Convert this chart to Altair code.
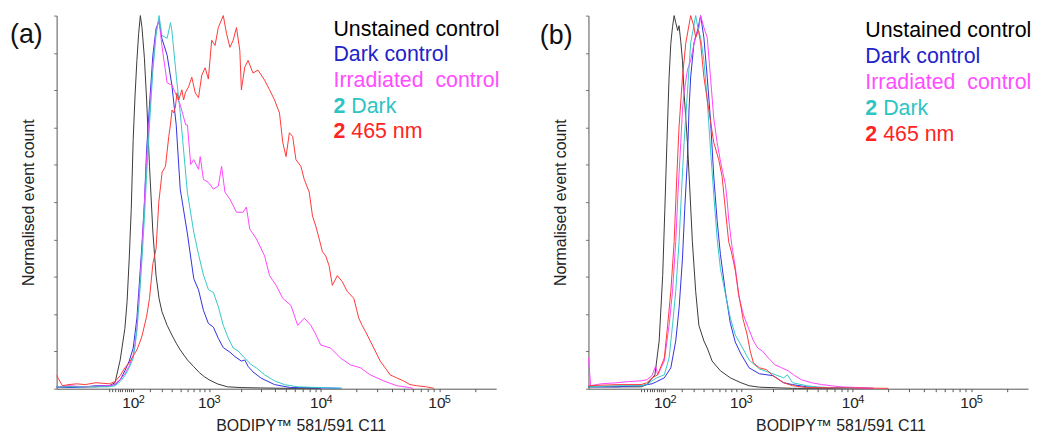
import altair as alt
import pandas as pd

SERIES = ["Unstained control", "Dark control", "Irradiated control", "2 Dark", "2 465 nm"]
LINE_COLORS = ["#3a3a3a", "#3030e0", "#ff45ff", "#36c8c8", "#ff3838"]
TEXT_COLORS = ["#000000", "#2222c8", "#ff4dff", "#2ec4c4", "#ff2424"]

MAJOR_TICKS = [100, 1000, 10000, 100000]
MAJOR_BASE = ["10", "10", "10", "10"]
MAJOR_EXP = ["2", "3", "4", "5"]
MINOR_TICKS = [0, 10, 20, 30, 40, 50, 60, 70, 80, 90,
               200, 300, 400, 500, 600, 700, 800, 900,
               2000, 3000, 4000, 5000, 6000, 7000, 8000, 9000,
               20000, 30000, 40000, 50000, 60000, 70000, 80000, 90000, 200000]
Y_TICKS = [0, 10, 20, 30, 40, 50, 60, 70, 80, 90, 100]

# ---------------- panel (a) ----------------
A_UNSTAINED_X = [-300, -200, -100, -50, 0, 20, 40, 60, 70, 80, 90, 100, 110, 120, 130, 140, 150, 165, 180, 200,
                 225, 250, 275, 300, 350, 400, 450, 500, 600, 700, 800, 900, 1000, 1200, 1500, 2000, 3000, 5000, 10000]
A_UNSTAINED_Y = [0.5, 0.5, 0.5, 0.5, 0.8, 1.6, 7.7, 16.2, 23.4, 34.8, 48.1, 66.8, 78.7, 88.0, 95.2, 100, 96.8, 88.8, 77.4, 59.6,
                 42.0, 30.3, 24.2, 20.7, 17.0, 14.4, 12.2, 10.4, 7.7, 5.9, 4.3, 3.2, 2.4, 1.3, 0.5, 0.3, 0.2, 0.1, 0.1]

A_DARK_X = [-300, -200, -100, -50, 0, 20, 40, 60, 80, 100, 110, 120, 130, 140, 150, 165, 180, 200, 225, 250,
            275, 300, 350, 400, 450, 500, 600, 700, 784, 879, 984, 1101, 1228, 1369, 1580, 1757, 2014, 2162, 2314, 2563,
            3036, 3973, 5491, 7000, 15000]
A_DARK_Y = [0.5, 0.3, 0.5, 0.8, 0.8, 1.1, 2.4, 4.8, 7.4, 10.9, 14.9, 18.9, 25.5, 32.2, 38.8, 49.5, 64.1, 76.1, 89.4, 96.5,
            98.7, 93.9, 89.4, 81.4, 70.7, 53.5, 41.5, 29.5, 26.5, 21.0, 17.5, 16.5, 13.5, 11.0, 9.8, 8.6, 7.4, 7.7, 6.0, 4.5,
            2.8, 1.1, 0.3, 0.3, 0.1]

A_IRR_X = [-300, -200, -100, 0, 20, 40, 60, 80, 100, 110, 120, 130, 140, 150, 165, 180, 200, 225, 250, 275,
           300, 350, 400, 450, 500, 575, 600, 650, 700, 784, 815, 879, 984, 1101, 1228, 1320, 1420, 1580, 1816, 2088,
           2235, 2397, 2742, 3250, 3594, 4102, 4689, 5523, 6304, 7189, 8180, 8747, 9960, 12079, 14670, 17800, 21600, 26180,
           33900, 43790, 56300, 60000]
A_IRR_Y = [0.5, 0.8, 0.5, 0.8, 1.3, 2.4, 4.0, 6.1, 9.0, 12.2, 16.2, 22.9, 29.5, 37.5, 49.5, 61.4, 73.4, 86.7, 96.0, 98.7,
           92.0, 82.0, 81.4, 78.7, 76.1, 70.7, 70.7, 60.1, 61.4, 58.8, 62.2, 56.1, 55.3, 53.5, 54.3, 59.6, 52.7, 50.8, 47.3, 47.3,
           48.7, 42.8, 40.2, 35.6, 30.3, 27.7, 24.2, 22.3, 17.0, 18.9, 17.0, 15.4, 11.7, 10.9, 8.2, 6.4, 5.6, 3.7,
           2.1, 0.8, 0.3, 0.1]

A_2DARK_X = [-300, -100, 0, 20, 40, 60, 80, 100, 110, 120, 130, 140, 150, 165, 180, 200, 225, 250, 275, 300,
             350, 385, 400, 450, 500, 600, 700, 784, 879, 984, 1101, 1228, 1369, 1523, 1693, 1880, 2162, 2477, 2742, 3250,
             3973, 4845, 6304, 10000, 15000]
A_2DARK_Y = [0.5, 0.5, 0.5, 0.8, 1.9, 3.5, 5.6, 8.2, 11.4, 15.7, 21.5, 28.2, 34.8, 45.5, 57.4, 70.7, 85.4, 94.7, 100, 94.7,
             93.9, 98.1, 96.0, 84.0, 74.0, 52.5, 42.0, 36.0, 30.5, 26.6, 25.8, 22.0, 17.0, 13.6, 10.9, 10.1, 8.2, 6.4, 5.6, 3.7,
             2.1, 1.1, 0.5, 0.3, 0.1]

A_465_X = [-300, -250, -200, -150, -100, -50, 0, 20, 40, 60, 80, 100, 120, 140, 150, 165, 180, 200, 225, 250,
           273, 302, 334, 367, 384, 402, 420, 440, 459, 480, 522, 545, 569, 617, 668, 725, 784, 845, 914, 984,
           1060, 1143, 1228, 1369, 1469, 1580, 1693, 1816, 1948, 2014, 2162, 2314, 2563, 2839, 3250, 3594, 3973, 4390, 4689, 5005,
           5352, 5712, 6098, 6725, 7189, 7929, 8458, 9024, 9642, 10285, 10965, 11715, 12490, 13758, 15162, 16701, 19006, 20944,
           22321, 23786, 26180, 28849, 31756, 34969, 38505, 43790, 49810, 56560, 64300, 77900, 90000]
A_465_Y = [3.5, 0.8, 1.1, 1.3, 1.1, 1.6, 1.3, 1.9, 3.5, 5.6, 6.9, 8.8, 10.4, 12.8, 14.1, 16.8, 19.4, 24.2, 33.5, 37.5,
           50.0, 58.0, 59.6, 67.6, 70.7, 74.7, 73.9, 75.5, 79.3, 77.4, 80.1, 77.4, 79.3, 80.9, 83.5, 79.3, 78.0, 84.0, 86.0, 83.0,
           93.4, 92.0, 96.8, 100, 95.2, 91.5, 93.4, 96.8, 90.7, 80.1, 86.2, 88.0, 84.6, 85.4, 82.7, 80.1, 77.4, 73.9, 66.0, 62.2,
           68.6, 67.6, 61.4, 59.6, 56.1, 52.7, 46.3, 43.6, 40.2, 36.7, 35.6, 33.0, 27.7, 30.3, 28.7, 26.1, 24.2, 18.9,
           17.0, 15.4, 12.8, 10.1, 7.4, 5.6, 3.7, 2.9, 2.1, 1.1, 0.8, 0.5, 0.1]

# ---------------- panel (b) ----------------
B_UNSTAINED_X = [-300, -100, 0, 20, 52, 71, 88, 99, 110, 122, 132, 142, 152, 162, 175, 184, 196, 208, 220, 246,
                 267, 288, 318, 349, 402, 440, 501, 617, 784, 1000, 1200, 1500, 3000, 10000]
B_UNSTAINED_Y = [0.5, 0.5, 0.5, 1.1, 3.7, 12.8, 30.3, 48.1, 66.0, 83.5, 92.6, 97.0, 100, 98.1, 96.0, 97.3, 93.0, 88.0, 79.3, 66.0,
                 52.7, 39.4, 26.1, 17.0, 12.8, 10.9, 7.4, 4.8, 2.9, 1.6, 0.8, 0.4, 0.1, 0.1]

B_DARK_X = [-300, -100, 0, 20, 40, 60, 96, 132, 162, 184, 208, 225, 246, 259, 273, 302, 340, 367, 402, 440,
            480, 522, 569, 617, 696, 784, 879, 1000, 1200, 1500, 2000, 2500, 3000, 4000, 6000, 15000]
B_DARK_Y = [0.5, 0.5, 0.8, 1.1, 1.3, 1.9, 2.9, 5.6, 12.8, 21.5, 34.8, 48.1, 61.4, 74.7, 83.5, 92.6, 96.5, 100, 94.1, 83.5,
            72.0, 57.0, 45.0, 36.0, 26.0, 17.5, 12.5, 9.3, 5.6, 4.0, 3.5, 1.6, 1.1, 0.5, 0.3, 0.1]

B_IRR_X = [-300, -280, -200, -100, -50, 0, 20, 40, 55, 64, 96, 122, 142, 162, 177, 196, 208, 220, 246, 273,
           318, 349, 367, 402, 440, 480, 522, 569, 617, 643, 696, 725, 753, 815, 879, 948, 1060, 1185, 1320, 1450,
           1600, 1820, 2090, 2400, 2740, 3140, 3600, 4400, 5400, 6500, 7900, 15000]
B_IRR_Y = [8.2, 0.8, 1.3, 1.6, 1.9, 2.1, 2.4, 3.5, 6.1, 3.7, 7.4, 17.0, 26.1, 39.4, 52.7, 66.0, 74.7, 79.3, 85.4, 88.0,
           94.7, 96.5, 100, 96.8, 94.1, 83.5, 72.5, 66.0, 61.0, 58.8, 54.8, 50.8, 45.5, 38.0, 32.7, 25.0, 19.7, 16.2, 12.8, 10.9,
           10.1, 8.2, 6.4, 5.6, 4.8, 3.5, 2.4, 1.6, 1.1, 0.8, 0.5, 0.1]

B_2DARK_X = [-300, -100, 0, 20, 40, 60, 96, 122, 142, 162, 184, 201, 220, 246, 273, 318, 345, 367, 402, 440,
             480, 522, 569, 617, 696, 784, 879, 1000, 1200, 1500, 2000, 2500, 2700, 3000, 4000, 5000, 10000]
B_2DARK_Y = [0.5, 0.8, 0.8, 1.1, 2.1, 2.9, 3.7, 8.2, 17.0, 26.1, 39.4, 52.7, 66.0, 79.3, 92.6, 100, 96.0, 94.1, 88.0, 77.4,
             64.1, 52.1, 40.2, 32.2, 25.5, 18.9, 14.4, 11.7, 7.7, 5.3, 4.0, 2.9, 3.7, 1.6, 0.8, 0.4, 0.1]

B_465_X = [-300, -100, 0, 20, 40, 64, 96, 114, 132, 152, 169, 184, 208, 233, 273, 300, 318, 345, 367, 402,
           459, 522, 592, 643, 696, 753, 800, 880, 950, 1050, 1150, 1230, 1320, 1500, 1750, 2000, 2500, 3000, 4000, 20000]
B_465_Y = [0.8, 1.1, 1.1, 1.6, 2.9, 3.7, 8.2, 17.0, 26.1, 39.4, 56.9, 70.2, 83.5, 92.6, 100, 97.3, 94.1, 96.0, 92.6, 83.5,
           74.7, 66.0, 61.4, 56.9, 48.1, 39.4, 36.9, 31.6, 25.5, 18.6, 14.4, 10.1, 6.9, 5.6, 5.1, 3.5, 1.6, 0.8, 0.3, 0.1]

LEGEND_MAIN = ["Unstained control", "Dark control", "Irradiated\u00a0 control", "Dark", "465 nm"]
LEGEND_BOLD = ["", "", "", "2", "2"]

ONE = pd.DataFrame({"k": [0]})
FONT = "Liberation Sans"
NARROW = "Liberation Sans Narrow, Liberation Sans"


def panel_frame(xs_list, ys_list):
    rows = []
    for name, xs, ys in zip(SERIES, xs_list, ys_list):
        for i, (x, y) in enumerate(zip(xs, ys)):
            rows.append({"x": x, "y": y, "series": name, "i": i})
    return pd.DataFrame(rows)


def text_layer(txt, x, y, color, size, weight="normal"):
    return alt.Chart(ONE).mark_text(
        text=txt, align="left", baseline="alphabetic", font=FONT,
        fontSize=size, fontWeight=weight, color=color
    ).encode(x=alt.value(x), y=alt.value(y))


label_expr = " : ".join(
    f"datum.value == {v} ? '{l}'" for v, l in zip(MAJOR_TICKS, MAJOR_BASE)
) + " : ''"

X_SCALE = alt.Scale(type="symlog", constant=170, domain=[-300, 300000], nice=False, zero=False)
Y_SCALE = alt.Scale(domain=[0, 100], nice=False)


def panel(df, letter, letter_x, letter_y, title_x, legend_ys):
    x_axis = alt.Axis(
        values=sorted(MINOR_TICKS + MAJOR_TICKS), labelExpr=label_expr,
        tickSize=3, tickColor="#555555", domainColor="#555555", tickWidth=1,
        labelFont=NARROW, labelFontSize=15.5, labelColor="#222222", labelOffset=-3,
        labelBaseline="alphabetic", labelPadding=16, labelOverlap=False, labelFlush=False,
        title="BODIPY\u2122 581/591 C11", titleFont=FONT, titleFontSize=16, titleFontWeight="normal",
        titleColor="#222222", titleX=title_x, titleY=42, titleBaseline="alphabetic", titleAlign="center",
        grid=False,
    )
    y_axis = alt.Axis(
        values=Y_TICKS, labels=False, tickSize=3, tickColor="#777777", domainColor="#555555",
        title="Normalised event count", titleFont=FONT, titleFontSize=16, titleFontWeight="normal",
        titleColor="#222222", titlePadding=17, grid=False,
    )
    lines = alt.Chart(df).mark_line(strokeWidth=1).encode(
        x=alt.X("x:Q", scale=X_SCALE, axis=x_axis),
        y=alt.Y("y:Q", scale=Y_SCALE, axis=y_axis),
        color=alt.Color("series:N", scale=alt.Scale(domain=SERIES, range=LINE_COLORS), legend=None),
        order="i:Q",
    )
    exps = alt.Chart(pd.DataFrame({"x": MAJOR_TICKS, "e": MAJOR_EXP})).mark_text(
        align="left", baseline="alphabetic", font=NARROW, fontSize=11, color="#222222", dx=5.5
    ).encode(x=alt.X("x:Q", scale=X_SCALE, axis=x_axis), y=alt.value(390), text="e:N")
    layers = [lines, exps, text_layer(letter, letter_x, letter_y, "#111111", 27)]
    for k in range(5):
        if LEGEND_BOLD[k]:
            layers.append(text_layer(LEGEND_BOLD[k], 279, legend_ys[k], TEXT_COLORS[k], 21.5, "bold"))
            layers.append(text_layer(LEGEND_MAIN[k], 297, legend_ys[k], TEXT_COLORS[k], 21.5))
        else:
            layers.append(text_layer(LEGEND_MAIN[k], 279, legend_ys[k], TEXT_COLORS[k], 21.5))
    return alt.layer(*layers).properties(width=443, height=376)


df_a = panel_frame([A_UNSTAINED_X, A_DARK_X, A_IRR_X, A_2DARK_X, A_465_X],
                   [A_UNSTAINED_Y, A_DARK_Y, A_IRR_Y, A_2DARK_Y, A_465_Y])
df_b = panel_frame([B_UNSTAINED_X, B_DARK_X, B_IRR_X, B_2DARK_X, B_465_X],
                   [B_UNSTAINED_Y, B_DARK_Y, B_IRR_Y, B_2DARK_Y, B_465_Y])

pa = panel(df_a, "(a)", -47, 28, 246, [21, 46, 72, 98, 123.5])
pb = panel(df_b, "(b)", -49, 29, 254, [22, 48, 74, 100, 126])

chart = alt.hconcat(pa, pb, spacing=40).properties(
    padding={"left": 2, "top": 4, "right": 0, "bottom": 0}
).configure_view(stroke=None)

chart.save("out.html", embed_options={"renderer": "svg", "actions": False})
